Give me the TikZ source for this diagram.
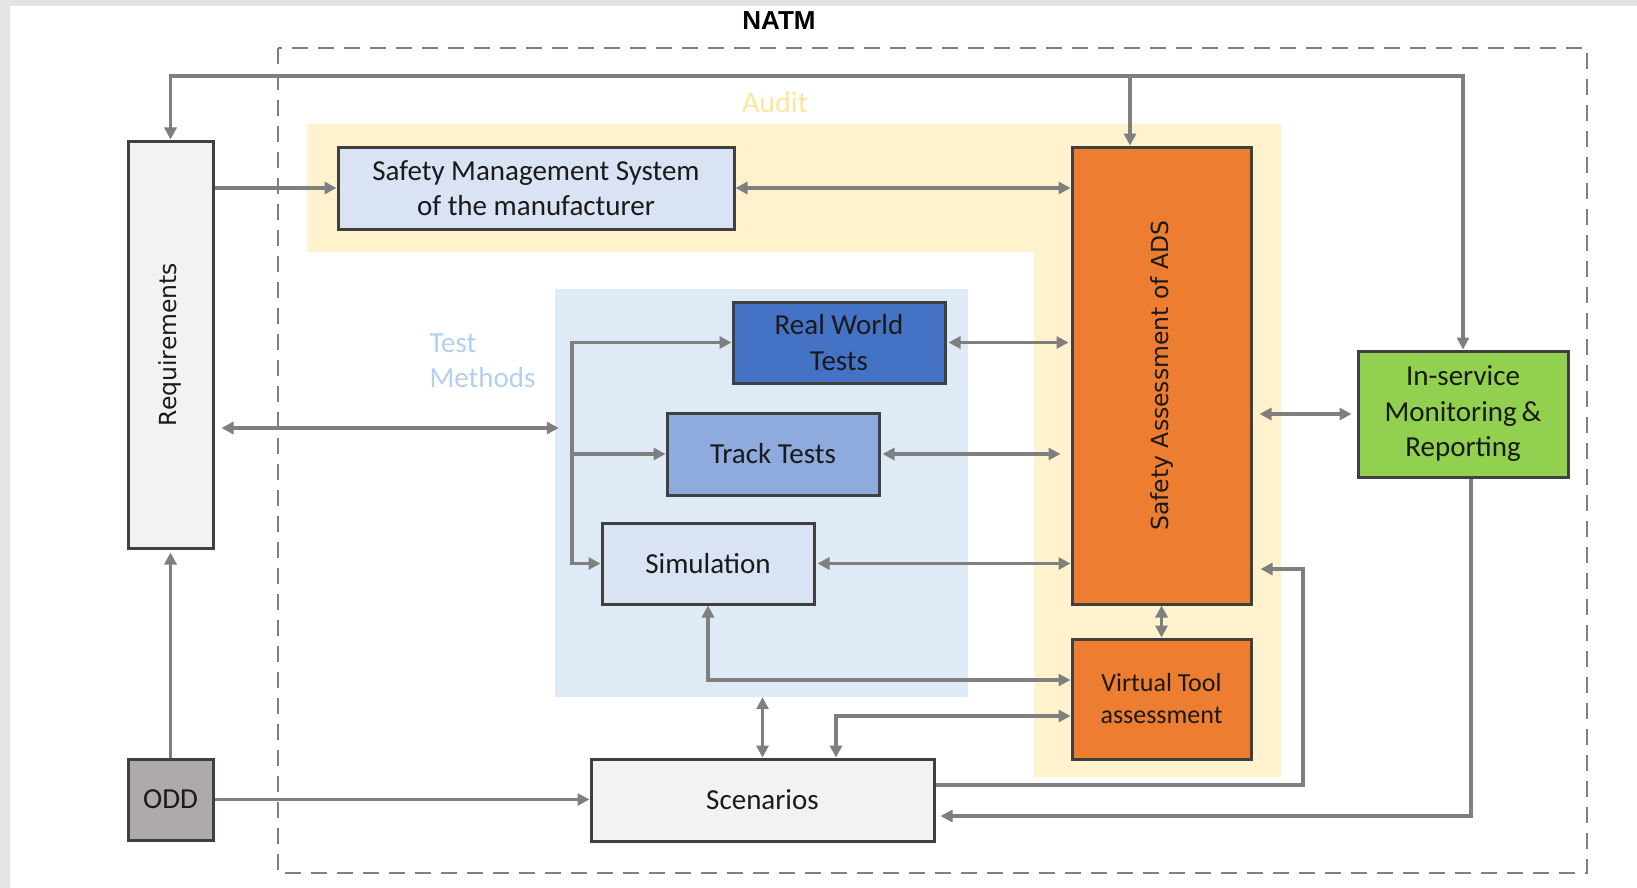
\documentclass[tikz,border=0pt]{standalone}
\usepackage{fontspec}
\setmainfont{Carlito}
\newfontfamily\rotfont{DejaVu Sans}
\newfontfamily\titlefont{Liberation Sans}
\usetikzlibrary{arrows.meta,calc}
\definecolor{linec}{HTML}{7F7F7F}
\definecolor{bordc}{HTML}{404040}
\definecolor{txtc}{HTML}{1A1A1A}
\definecolor{lgrey}{HTML}{F2F2F2}
\definecolor{oddc}{HTML}{AEAAAA}
\definecolor{paleblue}{HTML}{DAE3F3}
\definecolor{rwblue}{HTML}{4472C4}
\definecolor{ttblue}{HTML}{8FAADC}
\definecolor{orangec}{HTML}{ED7D31}
\definecolor{greenc}{HTML}{92D050}
\definecolor{auditbg}{HTML}{FFF2CC}
\definecolor{audittx}{HTML}{FFE699}
\definecolor{tmbgc}{HTML}{DEEBF7}
\definecolor{tmtx}{HTML}{B4D0EE}
\definecolor{edgec}{HTML}{E4E4E4}
\tikzset{
  box/.style={draw=bordc, line width=3pt, rectangle, inner sep=0pt, align=center,
    text=txtc, font=\fontsize{29}{35.5}\selectfont},
  link/.style={draw=linec, line width=3.3pt, arrows={-}},
  tip/.style={-{Triangle[length=12pt,width=12pt]}},
  tips/.style={{Triangle[length=12pt,width=12pt]}-{Triangle[length=12pt,width=12pt]}},
}
\begin{document}
\begin{tikzpicture}[x=1pt,y=-1pt]
\useasboundingbox (0,0) rectangle (1637,888);
% page background
\fill[edgec] (0,0) rectangle (1637,888);
\fill[white] (10,6) rectangle (1637,888);
% group backgrounds
\fill[auditbg] (307,124) -- (1281,124) -- (1281,777) -- (1034,777) -- (1034,252) -- (307,252) -- cycle;
\node[fill=tmbgc, minimum width=413pt, minimum height=408pt, inner sep=0pt] (tm) at (761.5,493) {};
% dashed frame
\draw[linec, line width=2.8pt, dash pattern=on 16pt off 10pt] (278,48) rectangle (1587,873);
% labels
\node[font=\titlefont\bfseries\fontsize{26}{30}\selectfont, text=black] (natm) at (779,21) {NATM};
\node[font=\fontsize{30}{35}\selectfont, text=audittx] (audit) at (775,102) {Audit};
\node[font=\fontsize{29}{35.5}\selectfont, text=tmtx, align=left, anchor=west] (tmlabel) at (426,361) {Test\\Methods};
% nodes
\node[box, fill=lgrey, minimum width=85pt, minimum height=407pt] (req) at (170.5,344.5)
  {\rotatebox{90}{\rotfont\fontsize{23.5}{28}\selectfont Requirements}};
\node[box, fill=oddc, minimum width=85pt, minimum height=81pt] (odd) at (170.5,799.5) {ODD};
\node[box, fill=paleblue, minimum width=396pt, minimum height=82pt] (sms) at (536,188)
  {Safety Management System\\of the manufacturer};
\node[box, fill=orangec, minimum width=179pt, minimum height=457pt] (sa) at (1161.5,375.5)
  {\rotatebox{90}{\rotfont\fontsize{23.5}{28}\selectfont Safety Assessment of ADS}};
\node[box, fill=orangec, minimum width=179pt, minimum height=120pt, font=\fontsize{26}{32}\selectfont] (vt) at (1161.5,699)
  {Virtual Tool\\assessment};
\node[box, fill=rwblue, minimum width=212pt, minimum height=81pt] (rw) at (839,342.5) {Real World\\Tests};
\node[box, fill=ttblue, minimum width=212pt, minimum height=82pt] (tt) at (773,454) {Track Tests};
\node[box, fill=paleblue, minimum width=212pt, minimum height=81pt] (sim) at (708,563.5) {Simulation};
\node[box, fill=lgrey, minimum width=343pt, minimum height=82pt] (scen) at (762.5,800) {Scenarios};
\node[box, fill=greenc, minimum width=210pt, minimum height=126pt] (ins) at (1463,414)
  {In-service\\Monitoring\,\&\\Reporting};
% coordinates
\coordinate (ttop) at (1463,76);
\coordinate (tsa) at (1130,76);
\coordinate (bus) at (572,342.5);
\coordinate (r1) at (1303,569);
% connectors
\draw[link,tips] (req.north) |- (ttop) -- (ins.north);
\draw[link,tip] (tsa) -- (tsa |- sa.north);
\draw[link,tip] (req.east |- sms.west) -- (sms.west);
\draw[link,tips] (sms.east) -- (sms.east -| sa.west);
\draw[link,tips] ([xshift=7pt]req.east |- 0,428) -- ([xshift=4pt]tm.west |- 0,428);
\draw[link,tips] (sim.west) -| (bus) -- (rw.west);
\draw[link,tip] (bus |- tt.west) -- (tt.west);
\draw[link,tips] ([xshift=2pt]rw.east) -- ([xshift=-2pt]rw.east -| sa.west);
\draw[link,tips] ([xshift=2pt]tt.east) -- ([xshift=-10pt]tt.east -| sa.west);
\draw[link,tips] ([xshift=2pt]sim.east) -- (sim.east -| sa.west);
\draw[link,tips] (sim.south) |- ([yshift=19pt]vt.west);
\draw[link,tips] (scen.north |- tm.south) -- (scen.north);
\draw[link,tips] ([xshift=73.5pt]scen.north) |- ([yshift=-17pt]vt.west);
\draw[link,tips] (sa.south) -- (vt.north);
\draw[link,tip] ([yshift=15pt]scen.east) -| (r1) -- ([xshift=8pt]r1 -| sa.east);
\draw[link,tips] ([xshift=7pt]sa.east |- ins.west) -- ([xshift=-5pt]ins.west);
\draw[link,tip] ([xshift=8pt]ins.south) |- ([xshift=5pt,yshift=-16pt]scen.east);
\draw[link,tip] (odd.north) -- ([yshift=-3pt]req.south);
\draw[link,tip] (odd.east) -- (odd.east -| scen.west);
\end{tikzpicture}
\end{document}
